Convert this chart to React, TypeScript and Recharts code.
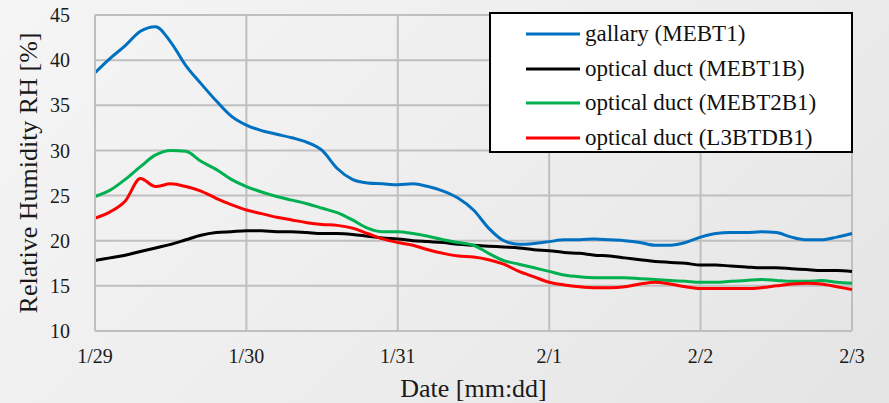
import React from "react";
import {
  LineChart,
  Line,
  XAxis,
  YAxis,
  CartesianGrid,
  Legend,
} from "recharts";

// sample grid: every 0.1 day from 1/29 00:00 to 2/3 00:00
const SAMPLE_COUNT = 51;
const times = Array.from({ length: SAMPLE_COUNT }, (_, i) => i / 10);

const dayTicks = [0, 1, 2, 3, 4, 5];
const dayLabels = ["1/29", "1/30", "1/31", "2/1", "2/2", "2/3"];
const rhTicks = [10, 15, 20, 25, 30, 35, 40, 45];

// relative humidity [%]
const gallaryMEBT1 = [
  38.6, 40.2, 41.6, 43.2, 43.7, 42.0, 39.4, 37.4, 35.5, 33.8,
  32.8, 32.2, 31.8, 31.4, 30.9, 30.0, 28.0, 26.8, 26.4, 26.3,
  26.2, 26.3, 26.0, 25.5, 24.7, 23.4, 21.4, 20.0, 19.6, 19.7,
  19.9, 20.1, 20.1, 20.2, 20.1, 20.0, 19.8, 19.5, 19.5, 19.8,
  20.4, 20.8, 20.9, 20.9, 21.0, 20.9, 20.4, 20.1, 20.1, 20.4,
  20.8,
];
const ductMEBT1B = [
  17.8, 18.1, 18.4, 18.8, 19.2, 19.6, 20.1, 20.6, 20.9, 21.0,
  21.1, 21.1, 21.0, 21.0, 20.9, 20.8, 20.8, 20.7, 20.5, 20.3,
  20.2, 20.0, 19.9, 19.8, 19.6, 19.5, 19.4, 19.3, 19.2, 19.0,
  18.9, 18.7, 18.6, 18.4, 18.3, 18.1, 17.9, 17.7, 17.6, 17.5,
  17.3, 17.3, 17.2, 17.1, 17.0, 17.0, 16.9, 16.8, 16.7, 16.7,
  16.6,
];
const ductMEBT2B1 = [
  24.9, 25.6, 26.8, 28.2, 29.5, 30.0, 29.9, 28.8, 27.9, 26.8,
  26.0, 25.4, 24.9, 24.5, 24.1, 23.6, 23.1, 22.3, 21.4, 21.0,
  21.0, 20.8, 20.5, 20.1, 19.8, 19.5, 18.6, 17.8, 17.4, 17.0,
  16.6, 16.2, 16.0, 15.9, 15.9, 15.9, 15.8, 15.7, 15.6, 15.5,
  15.4, 15.4, 15.5, 15.6, 15.7, 15.6, 15.5, 15.5, 15.6, 15.4,
  15.3,
];
const ductL3BTDB1 = [
  22.5, 23.2, 24.4, 26.9, 26.0, 26.3, 26.0, 25.5, 24.7, 24.0,
  23.4, 23.0, 22.6, 22.3, 22.0, 21.8, 21.7, 21.4, 20.8, 20.2,
  19.8, 19.5, 19.0, 18.6, 18.3, 18.2, 17.9, 17.4, 16.6, 16.0,
  15.4, 15.1, 14.9, 14.8, 14.8, 14.9, 15.2, 15.4, 15.2, 14.9,
  14.7, 14.7, 14.7, 14.7, 14.8, 15.0, 15.2, 15.3, 15.2, 14.9,
  14.6,
];

const rows = times.map((t, i) => ({
  t,
  gallary: gallaryMEBT1[i],
  mebt1b: ductMEBT1B[i],
  mebt2b1: ductMEBT2B1[i],
  l3btdb1: ductL3BTDB1[i],
}));

const legendOrder = ["gallary", "mebt1b", "mebt2b1", "l3btdb1"];

const SERIF = '"Liberation Serif", Tinos, "DejaVu Serif", "Times New Roman", Times, serif';
const GRID = "#bfbfbf";

const LegendBox = (props: any) => {
  const payload = [...(props.payload || [])].sort(
    (a: any, b: any) => legendOrder.indexOf(a.dataKey) - legendOrder.indexOf(b.dataKey)
  );
  return (
    <div
      style={{
        width: 364,
        height: 141,
        boxSizing: "border-box",
        background: "#fff",
        border: "2.5px solid #000",
        paddingTop: 3,
        fontFamily: SERIF,
        fontSize: 23,
        color: "#111",
      }}
    >
      {payload.map((p: any) => (
        <div
          key={p.value}
          style={{ display: "flex", alignItems: "center", height: 34.5 }}
        >
          <svg width={94} height={10} style={{ flex: "none" }}>
            <line x1={35} x2={89} y1={5} y2={5} stroke={p.color} strokeWidth={3} />
          </svg>
          <span style={{ whiteSpace: "nowrap" }}>{p.value}</span>
        </div>
      ))}
    </div>
  );
};

export default function App() {
  return (
    <div
      style={{
        position: "fixed",
        left: 0,
        top: 0,
        width: 889,
        height: 403,
        fontFamily: SERIF,
        background: "linear-gradient(135deg, #f5f5f5 0%, #ececec 60%, #e4e4e4 100%)",
      }}
    >
      <LineChart
        width={889}
        height={403}
        data={rows}
        margin={{ top: 15, right: 37, left: 0, bottom: 0 }}
        style={{ fontFamily: SERIF }}
      >
        <CartesianGrid stroke={GRID} strokeWidth={2} />
        <XAxis
          dataKey="t"
          type="number"
          domain={[0, 5]}
          ticks={dayTicks}
          tickFormatter={(v: number) => dayLabels[v] ?? ""}
          height={72}
          axisLine={{ stroke: GRID, strokeWidth: 2 }}
          tickLine={false}
          tickMargin={12}
          tick={{ fill: "#1a1a1a", fontSize: 20, fontFamily: SERIF }}
          label={{
            value: "Date [mm:dd]",
            position: "insideBottom",
            offset: 6,
            style: { fill: "#1a1a1a", fontSize: 26, fontFamily: SERIF },
          }}
        />
        <YAxis
          type="number"
          domain={[10, 45]}
          ticks={rhTicks}
          width={95}
          axisLine={{ stroke: GRID, strokeWidth: 2 }}
          tickLine={false}
          tickMargin={19}
          tick={{ fill: "#1a1a1a", fontSize: 20, fontFamily: SERIF }}
          label={{
            value: "Relative Humidity RH [%]",
            angle: -90,
            position: "insideLeft",
            offset: 28,
            style: { textAnchor: "middle", fill: "#1a1a1a", fontSize: 26, fontFamily: SERIF },
          }}
        />
        <Legend
          layout="vertical"
          align="center"
          verticalAlign="middle"
          content={LegendBox}
          wrapperStyle={{ top: 12, left: 489, width: 364 }}
        />
        <Line type="monotone" dataKey="gallary" name="gallary (MEBT1)" stroke="#0070c0" strokeWidth={3} dot={false} isAnimationActive={false} />
        <Line type="monotone" dataKey="mebt1b" name="optical duct (MEBT1B)" stroke="#000000" strokeWidth={3} dot={false} isAnimationActive={false} />
        <Line type="monotone" dataKey="mebt2b1" name="optical duct (MEBT2B1)" stroke="#00b050" strokeWidth={3} dot={false} isAnimationActive={false} />
        <Line type="monotone" dataKey="l3btdb1" name="optical duct (L3BTDB1)" stroke="#ff0000" strokeWidth={3} dot={false} isAnimationActive={false} />
      </LineChart>
    </div>
  );
}
